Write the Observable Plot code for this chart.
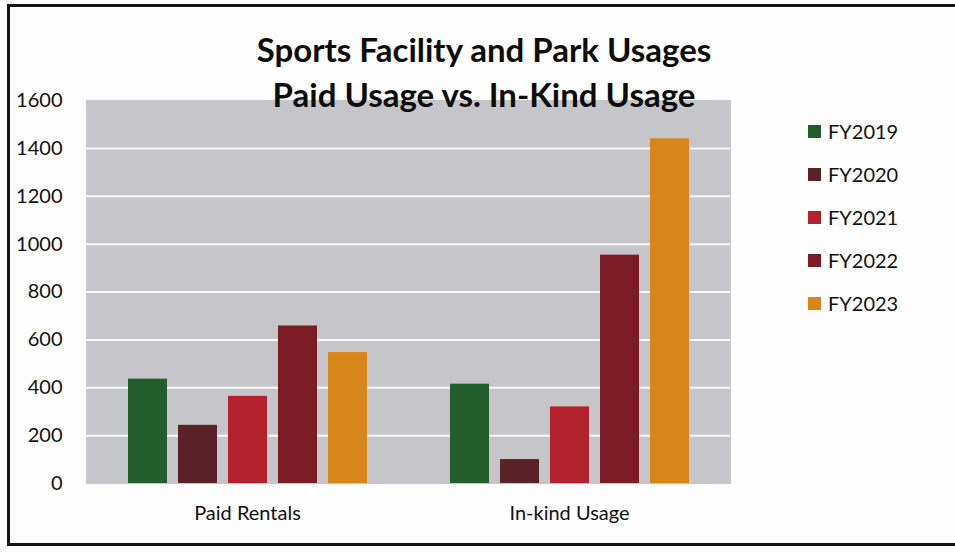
<!DOCTYPE html>
<html>
<head>
<meta charset="utf-8">
<script src="https://cdn.jsdelivr.net/npm/d3@7"></script>
<script src="https://cdn.jsdelivr.net/npm/@observablehq/plot@0.6"></script>
<style>
  html, body { margin: 0; padding: 0; background: #fff; }
  #wrap { position: relative; width: 955px; height: 553px; overflow: hidden; background: #fdfdfd; font-family: Lato, "Open Sans", sans-serif; color: #111; }
  #border { position: absolute; left: 7px; top: 4px; width: 960px; height: 542px; border: 3px solid #151515; border-right: none; box-sizing: border-box; pointer-events: none; }
  #chart { position: absolute; left: 0; top: 0; }
  #title { position: absolute; left: 0; width: 968px; top: 27px; text-align: center; font-weight: 700; font-size: 33px; line-height: 45px; color: #0d0d0d; }
  #legend { position: absolute; left: 808px; top: 0; }
  .lg { position: absolute; left: 0; display: flex; align-items: center; white-space: nowrap; font-size: 20px; height: 24px; }
  .sw { width: 13px; height: 13px; margin-right: 7px; }
</style>
</head>
<body>
<div id="wrap">
  <div id="chart"></div>
  <div id="title">Sports Facility and Park Usages<br>Paid Usage vs. In-Kind Usage</div>
  <div id="legend"></div>
  <div id="border"></div>
</div>
<script>
const categories = ["Paid Rentals", "In-kind Usage"];
const years = ["FY2019", "FY2020", "FY2021", "FY2022", "FY2023"];
const paidRentals = [436, 243, 364, 658, 547];
const inKindUsage = [415, 100, 320, 954, 1440];
const yearColors = ["#215e2b", "#5a2226", "#b3202e", "#7b1c25", "#d8861a"];
const yTicks = [0, 200, 400, 600, 800, 1000, 1200, 1400, 1600];

const data = [];
years.forEach((yr, i) => {
  data.push({category: categories[0], year: yr, value: paidRentals[i]});
  data.push({category: categories[1], year: yr, value: inKindUsage[i]});
});

const bg = "#c5c5ca";
const chart = Plot.plot({
  width: 955,
  height: 553,
  marginLeft: 86,
  marginRight: 225,
  marginTop: 100,
  marginBottom: 70,
  style: {background: "transparent", fontFamily: "Lato, 'Open Sans', sans-serif", fontSize: "20px", color: "#111"},
  fx: {domain: categories, paddingInner: 0, paddingOuter: 0, label: null, axis: null},
  x: {domain: years, paddingInner: 0.22, paddingOuter: 0.83, axis: null},
  y: {domain: [0, 1600], label: null, axis: null},
  color: {domain: years, range: yearColors},
  marks: [
    Plot.frame({fill: bg, stroke: bg, strokeWidth: 1}),
    Plot.gridY(yTicks.filter(d => d > 0 && d < 1600), {stroke: "#fafafa", strokeOpacity: 1, strokeWidth: 2}),
    Plot.barY(data, {fx: "category", x: "year", y: "value", fill: "year"}),
    Plot.axisY(yTicks, {tickSize: 0, tickPadding: 24, label: null, fontSize: 20, fill: "#111", tickFormat: d => String(d)}),
    Plot.axisFx({anchor: "bottom", tickSize: 0, tickPadding: 22, label: null, fontSize: 20, fill: "#111"})
  ]
});
document.getElementById("chart").appendChild(chart);

const legend = document.getElementById("legend");
years.forEach((yr, i) => {
  const row = document.createElement("div");
  row.className = "lg";
  row.style.top = (131 - 12 + 43 * i) + "px";
  const sw = document.createElement("span");
  sw.className = "sw";
  sw.style.background = yearColors[i];
  const t = document.createElement("span");
  t.textContent = yr;
  row.appendChild(sw);
  row.appendChild(t);
  legend.appendChild(row);
});
</script>
</body>
</html>
